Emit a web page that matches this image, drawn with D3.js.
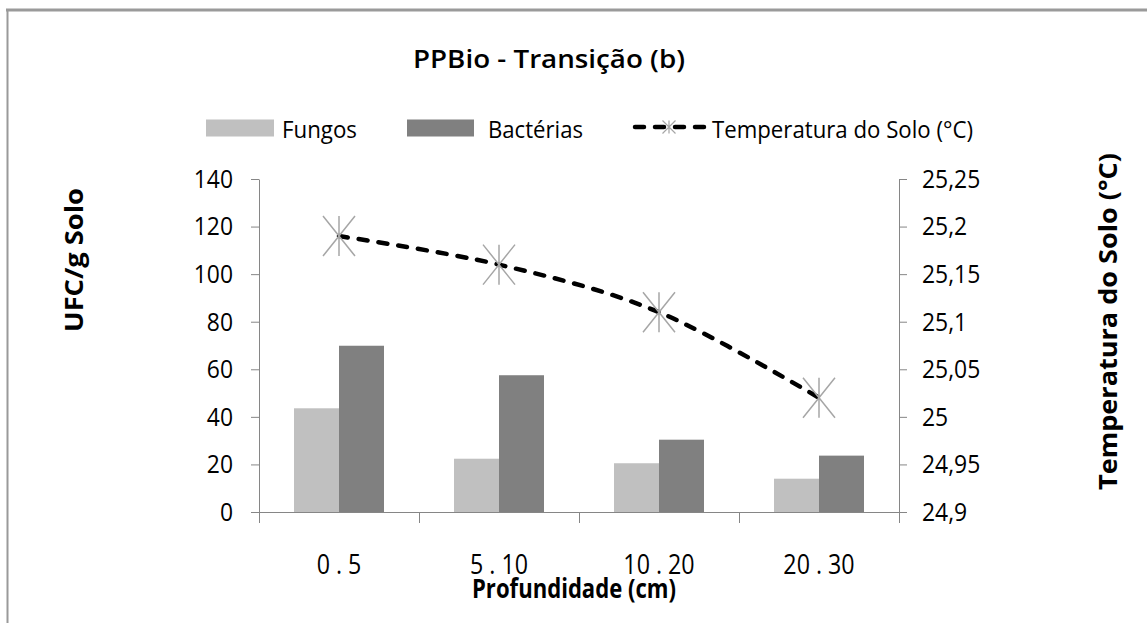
<!DOCTYPE html>
<html><head><meta charset="utf-8">
<script src="https://cdn.jsdelivr.net/npm/d3@7"></script>
<style>
body{margin:0;background:#fff}
svg{display:block}
text{font-family:"Open Sans",sans-serif;fill:#000}
</style>
</head><body>
<svg id="c" width="1147" height="623"></svg>
<script>
// ---------- data ----------
const categories = ["0 . 5", "5 . 10", "10 . 20", "20 . 30"];
const seriesNames = ["Fungos", "Bactérias"];
const fungos = [43.6, 22.4, 20.5, 14.0];
const bacterias = [69.9, 57.5, 30.4, 23.7];
const temperatura = [25.19, 25.16, 25.11, 25.02];
const leftTicks = [0, 20, 40, 60, 80, 100, 120, 140];
const rightTicks = [24.9, 24.95, 25, 25.05, 25.1, 25.15, 25.2, 25.25];
const chartTitle = "PPBio - Transição (b)";
const lineName = "Temperatura do Solo (°C)";
const yLeftTitle = "UFC/g Solo";
const yRightTitle = "Temperatura do Solo (°C)";
const xTitle = "Profundidade (cm)";

// ---------- layout ----------
const svg = d3.select("#c");
const L = 259, R = 899, T = 179, B = 512;
const axisCol = "#868686";
const colors = {"Fungos": "#c0c0c0", "Bactérias": "#808080"};
const values = {"Fungos": fungos, "Bactérias": bacterias};

function squeeze(sel, k) {
  sel.each(function () {
    const w = this.getComputedTextLength();
    d3.select(this).attr("textLength", w * k).attr("lengthAdjust", "spacingAndGlyphs");
  });
}
function fitTo(sel, w) { sel.attr("textLength", w).attr("lengthAdjust", "spacingAndGlyphs"); }

// border
svg.append("line").attr("x1", 6).attr("x2", 1147).attr("y1", 10).attr("y2", 10)
  .attr("stroke", "#9a9a9a").attr("stroke-width", 3);
svg.append("line").attr("x1", 7.5).attr("x2", 7.5).attr("y1", 9).attr("y2", 623)
  .attr("stroke", "#9a9a9a").attr("stroke-width", 2);

// scales
const x = d3.scaleBand().domain(categories).range([L, R]).padding(0);
const xB = d3.scaleLinear().domain([0, categories.length]).range([L, R]);
const x1 = d3.scaleBand().domain(seriesNames).range([0, x.bandwidth()]).paddingInner(0).paddingOuter(0.778);
const yL = d3.scaleLinear().domain([0, 140]).range([B, T]);
const yR = d3.scaleLinear().domain([24.9, 25.25]).range([B, T]);
const loc = d3.formatLocale({decimal: ",", thousands: ".", grouping: [3], currency: ["", ""]});
const fmtR = loc.format("~r");

// bars
const groups = svg.append("g").selectAll("g").data(categories).join("g")
  .attr("transform", d => `translate(${x(d)},0)`);
groups.selectAll("rect")
  .data((d, i) => seriesNames.map(s => ({s, v: values[s][i]})))
  .join("rect")
  .attr("x", d => x1(d.s)).attr("width", x1.bandwidth())
  .attr("y", d => yL(d.v)).attr("height", d => B - yL(d.v))
  .attr("fill", d => colors[d.s]);

// left axis
const gL = svg.append("g").attr("transform", `translate(${L},0)`)
  .call(d3.axisLeft(yL).tickValues(leftTicks).tickSize(8).tickSizeOuter(0).tickPadding(18));
// right axis
const gR = svg.append("g").attr("transform", `translate(${R},0)`)
  .call(d3.axisRight(yR).tickValues(rightTicks).tickFormat(fmtR).tickSize(8).tickSizeOuter(0).tickPadding(15));
[gL, gR].forEach(g => {
  g.selectAll("path,line").attr("stroke", axisCol);
  g.selectAll("text").attr("font-size", 26).attr("font-family", "Open Sans").attr("fill", "#000");
  squeeze(g.selectAll("text"), 0.88);
});

// x axis baseline + boundary ticks
const gXb = svg.append("g").attr("transform", `translate(0,${B})`)
  .call(d3.axisBottom(xB).tickValues(d3.range(categories.length + 1)).tickFormat("").tickSize(11).tickSizeOuter(0));
gXb.select(".domain").remove();
gXb.selectAll("line").attr("stroke", axisCol);
svg.append("line").attr("x1", L - 8).attr("x2", R + 8).attr("y1", B + 0.5).attr("y2", B + 0.5)
  .attr("stroke", axisCol);

// x labels
const gX = svg.append("g").attr("transform", `translate(0,${B})`)
  .call(d3.axisBottom(x).tickSize(0).tickPadding(43));
gX.select(".domain").remove();
gX.selectAll("text").attr("font-size", 27).attr("font-family", "Open Sans").attr("fill", "#000");
squeeze(gX.selectAll("text"), 0.86);

// temperature line
const line = d3.line().x((d, i) => x(categories[i]) + x.bandwidth() / 2).y(d => yR(d))
  .curve(d3.curveCardinal.tension(0));
svg.append("path").datum(temperatura).attr("d", line)
  .attr("fill", "none").attr("stroke", "#000").attr("stroke-width", 4.5)
  .attr("stroke-linecap", "round").attr("stroke-dasharray", "9 11");

function star(g, cx, cy, rx, ry, col, w) {
  const p = `M${cx},${cy - ry}L${cx},${cy + ry}M${cx - rx},${cy - ry}L${cx + rx},${cy + ry}M${cx - rx},${cy + ry}L${cx + rx},${cy - ry}`;
  g.append("path").attr("d", p).attr("stroke", col).attr("stroke-width", w).attr("fill", "none");
}
const gM = svg.append("g");
temperatura.forEach((v, i) => star(gM, x(categories[i]) + x.bandwidth() / 2, yR(v), 16, 20, "#a6a6a6", 1.5));

// title
const t = svg.append("text").attr("x", 549).attr("y", 68).attr("text-anchor", "middle")
  .attr("font-size", 25).attr("font-weight", 600).text(chartTitle);
fitTo(t, 272);

// legend
const leg = svg.append("g");
const legItems = [{s: "Fungos", x: 206, w: 68, tx: 282, tw: 75}, {s: "Bactérias", x: 407, w: 67, tx: 488, tw: 95}];
legItems.forEach(it => {
  leg.append("rect").attr("x", it.x).attr("y", 119.5).attr("width", it.w).attr("height", 17).attr("fill", colors[it.s]);
  fitTo(leg.append("text").attr("x", it.tx).attr("y", 138).attr("font-size", 23).text(it.s), it.tw);
});
leg.append("line").attr("x1", 635).attr("x2", 704).attr("y1", 127).attr("y2", 127)
  .attr("stroke", "#000").attr("stroke-width", 4.5).attr("stroke-linecap", "round").attr("stroke-dasharray", "9 11");
star(leg, 669, 127, 6.5, 6.5, "#a6a6a6", 1.2);
fitTo(leg.append("text").attr("x", 712).attr("y", 138).attr("font-size", 23).text(lineName), 261);

// axis titles
fitTo(svg.append("text").attr("transform", "translate(83,260) rotate(-90)").attr("text-anchor", "middle")
  .attr("font-size", 25).attr("font-weight", 700).text(yLeftTitle), 144);
fitTo(svg.append("text").attr("transform", "translate(1117,321.5) rotate(-90)").attr("text-anchor", "middle")
  .attr("font-size", 25).attr("font-weight", 700).text(yRightTitle), 337);
fitTo(svg.append("text").attr("x", 574).attr("y", 598).attr("text-anchor", "middle")
  .attr("font-size", 26).attr("font-weight", 700).text(xTitle), 204);
</script>
</body></html>
